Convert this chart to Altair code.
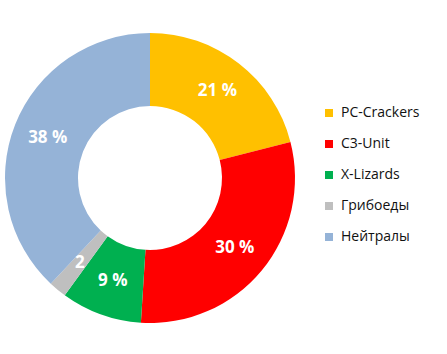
import altair as alt
import pandas as pd

teams = ["PC-Crackers", "C3-Unit", "X-Lizards", "Грибоеды", "Нейтралы"]
shares = [21, 30, 9, 2, 38]
labels = ["21 %", "30 %", "9 %", "2", "38 %"]
colors = ["#FFC000", "#FF0000", "#00B050", "#BFBFBF", "#95B3D7"]

df = pd.DataFrame({"team": teams, "share": shares, "label": labels, "idx": list(range(len(teams)))})

cx, cy = 150, 178

base = alt.Chart(df).encode(
    theta=alt.Theta("share:Q", stack=True),
    order=alt.Order("idx:Q"),
    x=alt.value(cx),
    y=alt.value(cy),
)

arcs = base.mark_arc(outerRadius=145, innerRadius=72).encode(
    color=alt.Color(
        "team:N",
        scale=alt.Scale(domain=teams, range=colors),
        sort=teams,
        legend=alt.Legend(
            title=None,
            orient="none",
            legendX=322,
            legendY=106,
            symbolType="square",
            symbolSize=64,
            symbolStrokeWidth=0,
            labelFont="Open Sans",
            labelFontSize=14,
            labelColor="#111111",
            rowPadding=17,
            labelOffset=5,
        ),
    )
)

text = base.mark_text(
    radius=110, font="Open Sans", fontSize=17, fontWeight="bold", color="white"
).encode(text="label:N")

chart = (
    alt.layer(arcs, text)
    .properties(width=447, height=354, padding=0, autosize=alt.AutoSizeParams(type="none"))
    .configure_view(stroke=None)
)

chart.save("out.html", embed_options={"renderer": "svg", "actions": False})
